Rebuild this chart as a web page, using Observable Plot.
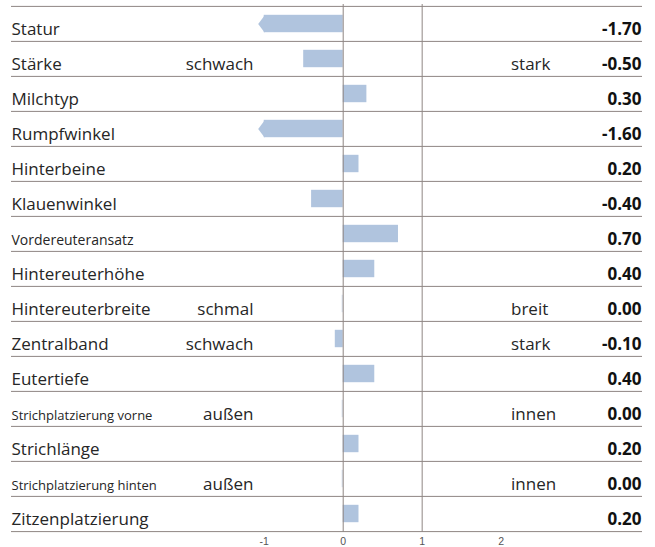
<!DOCTYPE html>
<html>
<head>
<meta charset="utf-8">
<script src="https://cdn.jsdelivr.net/npm/d3@7"></script>
<script src="https://cdn.jsdelivr.net/npm/@observablehq/plot@0.6"></script>
<style>
  html, body { margin: 0; padding: 0; background: #fff; }
  #chart svg { display: block; }
</style>
</head>
<body>
<div id="chart"></div>
<script>
const categories = ["Statur", "Stärke", "Milchtyp", "Rumpfwinkel", "Hinterbeine", "Klauenwinkel", "Vordereuteransatz", "Hintereuterhöhe", "Hintereuterbreite", "Zentralband", "Eutertiefe", "Strichplatzierung vorne", "Strichlänge", "Strichplatzierung hinten", "Zitzenplatzierung"];
const values = [-1.70, -0.50, 0.30, -1.60, 0.20, -0.40, 0.70, 0.40, 0.00, -0.10, 0.40, 0.00, 0.20, 0.00, 0.20];
const lowLabels = ["", "schwach", "", "", "", "", "", "", "schmal", "schwach", "", "außen", "", "außen", ""];
const highLabels = ["", "stark", "", "", "", "", "", "", "breit", "stark", "", "innen", "", "innen", ""];
const xTicks = [-1, 0, 1, 2];
const clipMin = -1;

const rows = categories.map((c, i) => ({cat: c, value: values[i], low: lowLabels[i], high: highLabels[i]}));

const W = 655, H = 547, mTop = 4, mBottom = 15, mLeft = 11, mRight = 13;
const bw = (H - mTop - mBottom) / categories.length;
const labelSize = {"Vordereuteransatz": 14, "Strichplatzierung vorne": 13, "Strichplatzierung hinten": 13};
const barColor = "#b0c4de";
const lineColor = "#8f8683";
const font = "'Open Sans', sans-serif";

const arrowSymbol = {
  draw(context) {
    context.moveTo(0.5, -bw / 4);
    context.lineTo(-6, 0);
    context.lineTo(0.5, bw / 4);
    context.closePath();
  }
};

const inset = bw / 4;

const plot = Plot.plot({
  width: W,
  height: H,
  marginTop: mTop,
  marginBottom: mBottom,
  marginLeft: mLeft,
  marginRight: mRight,
  style: {fontFamily: font, background: "#fff"},
  x: {domain: [-4.2, 3.79], ticks: xTicks, tickFormat: d => String(d), tickSize: 0, tickPadding: 5, label: null},
  y: {domain: categories, padding: 0, axis: null},
  marks: [
    Plot.axisX({ticks: xTicks, tickFormat: d => String(d), tickSize: 0, tickPadding: 5, fontSize: 10.5, fill: "#555", fontFamily: "'Liberation Sans', Arial, sans-serif", label: null}),
    Plot.barX(rows, {x1: 0, x2: d => Math.max(d.value, clipMin), y: "cat", fill: barColor, insetTop: inset, insetBottom: inset}),
    Plot.dot(rows.filter(d => d.value < clipMin), {x: clipMin, y: "cat", symbol: arrowSymbol, fill: barColor, stroke: "none"}),
    Plot.tickX(rows.filter(d => d.value === 0), {x: 0, y: "cat", dx: -1, stroke: barColor, strokeOpacity: 0.6, insetTop: inset, insetBottom: inset}),
    Plot.ruleY(categories, {y: d => d, dy: -bw / 2, stroke: lineColor, strokeWidth: 1}),
    Plot.ruleY(categories.slice(-1), {y: d => d, dy: bw / 2, stroke: lineColor, strokeWidth: 1}),
    Plot.ruleX([0, 1], {stroke: lineColor, strokeWidth: 1}),
    Plot.text(rows, {frameAnchor: "left", y: "cat", text: "cat", textAnchor: "start", lineAnchor: "bottom", dy: 11, fontSize: d => labelSize[d.cat] || 17, fill: "#262626"}),
    Plot.text(rows.filter(d => d.low), {frameAnchor: "left", y: "cat", text: "low", textAnchor: "end", lineAnchor: "bottom", dx: 242, dy: 11, fontSize: 17, fill: "#262626"}),
    Plot.text(rows.filter(d => d.high), {frameAnchor: "left", y: "cat", text: "high", textAnchor: "start", lineAnchor: "bottom", dx: 499.5, dy: 11, fontSize: 17, fill: "#262626"}),
    Plot.text(rows, {frameAnchor: "right", y: "cat", text: d => d.value.toFixed(2), textAnchor: "end", lineAnchor: "bottom", dx: -1, dy: 11, fontSize: 17, fontWeight: "bold", fill: "#111"})
  ]
});

document.getElementById("chart").appendChild(plot);
</script>
</body>
</html>
